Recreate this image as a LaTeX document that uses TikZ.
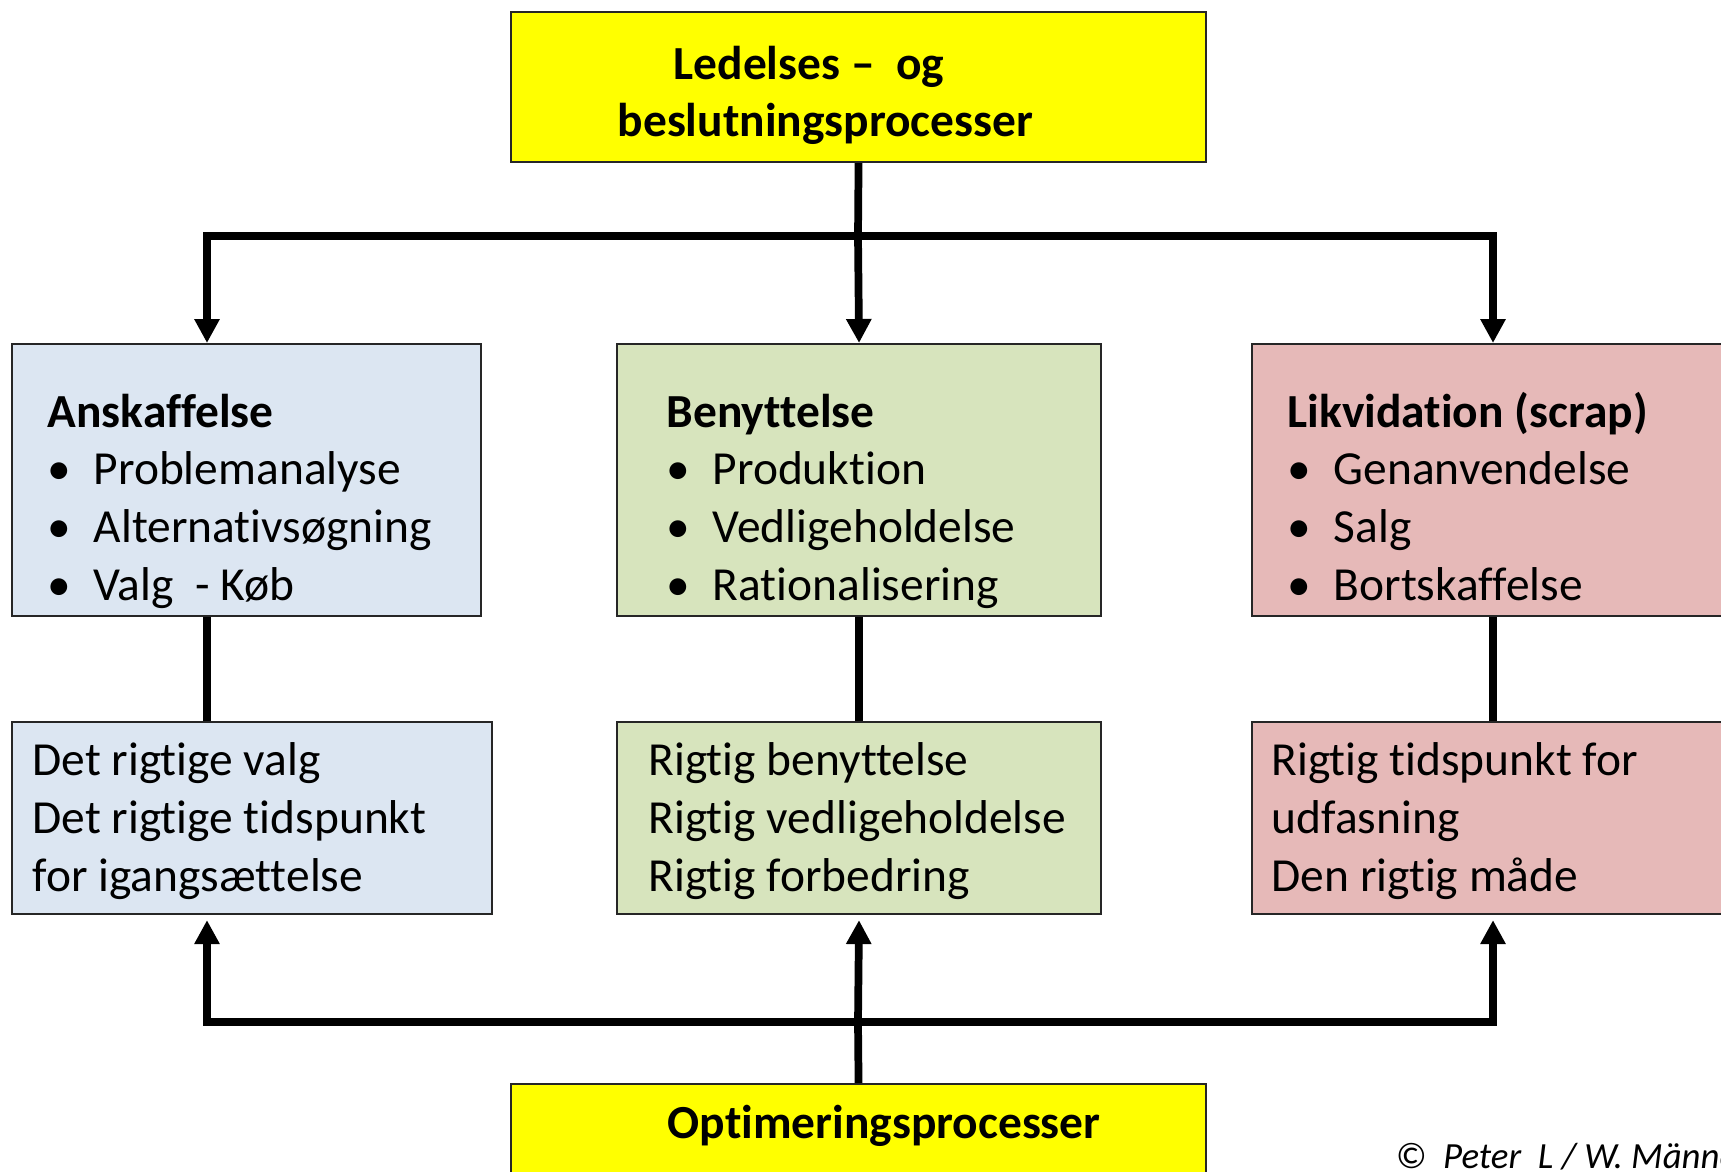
\documentclass[tikz,border=0pt]{standalone}
\usepackage{fontspec}
\setmainfont{Carlito}[Ligatures=NoCommon]
\usepackage{tikz}
\usetikzlibrary{
  arrows.meta,
  positioning,
  calc
}
\definecolor{procyellow}{HTML}{FFFF00}
\definecolor{acqblue}{HTML}{DCE6F2}
\definecolor{usegreen}{HTML}{D7E4BD}
\definecolor{scrapred}{HTML}{E6B9B8}
\definecolor{edgegrey}{HTML}{262626}
\tikzset{
  phasebox/.style={
    rectangle, draw=edgegrey, fill=#1, line width=0.6pt,
    anchor=north west, inner sep=0pt
  },
  boxtext/.style={
    anchor=base west, align=left, inner sep=0pt,
    font=\fontsize{13.5pt}{16.4pt}\selectfont
  },
  headtext/.style={
    boxtext, font=\fontsize{13.5pt}{16.4pt}\selectfont\bfseries
  },
  flowline/.style={
    line width=2.2pt, color=black
  },
  flowarrow/.style={
    flowline, -{Triangle[width=0.24cm,length=0.24cm]}
  },
  creditnote/.style={
    anchor=base west, inner sep=0pt, font=\fontsize{10.5pt}{12pt}\selectfont\itshape
  },
}
\newcommand{\bul}{\makebox[0.46cm][l]{\textbullet}}

\begin{document}
\begin{tikzpicture}
  \useasboundingbox (0,0) rectangle (17.21,11.71);
  \clip (0,0) rectangle (17.21,11.71);

  %% Process boxes (top and bottom)
  \node[phasebox=procyellow, minimum width=6.95cm, minimum height=1.50cm] (lede) at (5.10,11.60) {};
  \node[phasebox=procyellow, minimum width=6.95cm, minimum height=1.20cm] (optim) at (5.10,0.88) {};

  %% Phase boxes
  \node[phasebox=acqblue, minimum width=4.69cm, minimum height=2.72cm] (anskaf) at (0.11,8.28) {};
  \node[phasebox=usegreen, minimum width=4.84cm, minimum height=2.72cm] (benyt) at (6.16,8.28) {};
  \node[phasebox=scrapred, minimum width=5.00cm, minimum height=2.72cm] (likvid) at (12.51,8.28) {};

  %% Goal boxes
  \node[phasebox=acqblue, minimum width=4.80cm, minimum height=1.92cm] (anskafmaal) at (0.11,4.50) {};
  \node[phasebox=usegreen, minimum width=4.84cm, minimum height=1.92cm] (benytmaal) at (6.16,4.50) {};
  \node[phasebox=scrapred, minimum width=5.00cm, minimum height=1.92cm] (likvidmaal) at (12.51,4.50) {};

  %% Texts (base = last line)
  \node[headtext] (lede-a) at (6.73,10.91) {Ledelses –\ \ og};
  \node[headtext] (lede-b) at (6.17,10.34) {beslutningsprocesser};
  \node[headtext] (optim-txt) at (6.67,0.33) {Optimeringsprocesser};

  \node[boxtext] (anskaf-txt) at (0.47,5.71)
    {\textbf{Anskaffelse}\\ \bul Problemanalyse\\ \bul Alternativsøgning\\ \bul Valg\ \ - Køb};
  \node[boxtext] (benyt-txt) at (6.66,5.71)
    {\textbf{Benyttelse}\\ \bul Produktion\\ \bul Vedligeholdelse\\ \bul Rationalisering};
  \node[boxtext] (likvid-txt) at (12.87,5.71)
    {\textbf{Likvidation (scrap)}\\ \bul Genanvendelse\\ \bul Salg\\ \bul Bortskaffelse};

  \node[boxtext] (anskafmaal-txt) at (0.32,2.80)
    {Det rigtige valg\\ Det rigtige tidspunkt\\ for igangsættelse};
  \node[boxtext] (benytmaal-txt) at (6.48,2.80)
    {Rigtig benyttelse\\ Rigtig vedligeholdelse\\ Rigtig forbedring};
  \node[boxtext] (likvidmaal-txt) at (12.71,2.80)
    {Rigtig tidspunkt for\\ udfasning\\ Den rigtig måde};

  \node[creditnote] (credit) at (13.95,0.03) {©\ \ Peter\ \ L / W. Männel};

  %% Split from the top box
  \coordinate (split) at (8.58,9.35);
  \coordinate (splitL) at (2.07,9.35);
  \coordinate (splitR) at (14.93,9.35);
  \draw[flowline] (lede.south) -- (split);
  \draw[flowarrow] (split) -- (splitL) -- (anskaf.north -| splitL);
  \draw[flowarrow] (split) -- (benyt.north);
  \draw[flowarrow] (split) -- (splitR) -- (likvid.north -| splitR);

  %% Phase to goal
  \draw[flowline] (anskaf.south -| splitL) -- (anskafmaal.north -| splitL);
  \draw[flowline] (benyt.south) -- (benytmaal.north);
  \draw[flowline] (likvid.south -| splitR) -- (likvidmaal.north -| splitR);

  %% Join from the bottom box
  \coordinate (join) at (8.58,1.49);
  \coordinate (joinL) at (2.07,1.49);
  \coordinate (joinR) at (14.93,1.49);
  \draw[flowline] (optim.north) -- (join);
  \draw[flowarrow, shorten >=0.5mm] (join) -- (joinL) -- (anskafmaal.south -| joinL);
  \draw[flowarrow, shorten >=0.5mm] (join) -- (benytmaal.south);
  \draw[flowarrow, shorten >=0.5mm] (join) -- (joinR) -- (likvidmaal.south -| joinR);
\end{tikzpicture}
\end{document}
